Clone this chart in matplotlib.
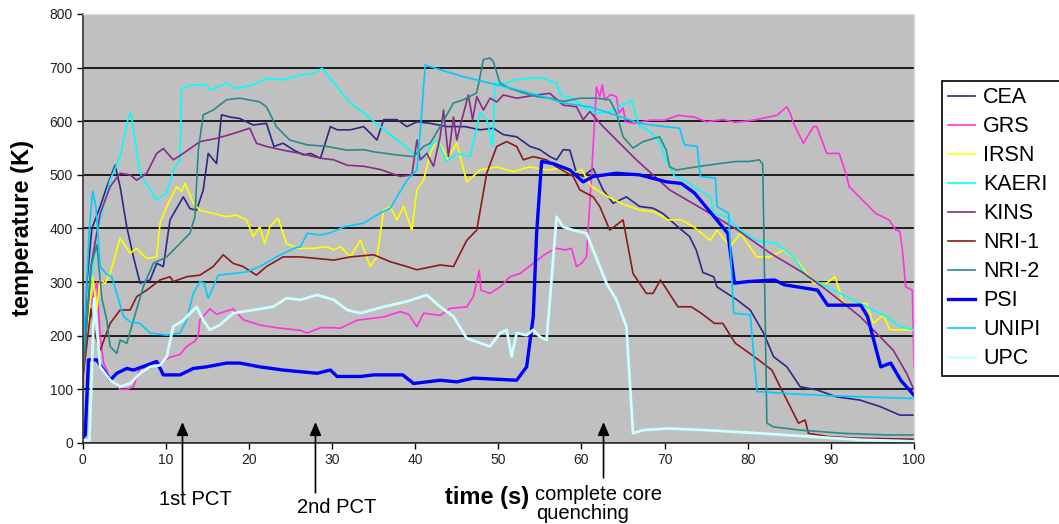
#!/usr/bin/env python3
import matplotlib
matplotlib.use("Agg")
import matplotlib.pyplot as plt

OUT_PNG = "out.png"

# time (s) / temperature (K) traces
cea_t = [0, 0.5, 1.1, 2.1, 2.9, 3.9, 4.5, 5.3, 6.1, 6.9, 8.1, 8.9, 9.7, 10.5, 12.1, 12.9, 13.7, 14.5,
         15.1, 16.1, 16.7, 17.7, 18.9, 20.5, 22.1, 23.0, 24.1, 25.4, 26.6, 27.4, 28.6, 29.8, 30.6, 32.2,
         33.8, 35.4, 36.2, 37.8, 39.0, 40.2, 41.8, 43.8, 46.0, 47.8, 49.4, 50.6, 52.2, 53.8, 55.0, 56.2,
         57.0, 57.8, 58.6, 59.4, 60.2, 61.4, 62.6, 63.8, 65.4, 67.0, 68.6, 69.8, 71.6, 73.0, 73.8, 74.6,
         75.9, 76.3, 77.5, 78.7, 80.3, 81.9, 83.1, 84.7, 86.3, 88.3, 90.7, 93.5, 95.9, 98.3, 100]
cea_v = [100, 300, 400, 441, 478, 518, 478, 403, 347, 298, 304, 335, 329, 416, 459, 437, 434, 472,
         540, 521, 612, 608, 605, 593, 596, 553, 559, 546, 537, 540, 531, 590, 584, 584,
         590, 565, 603, 603, 590, 599, 596, 590, 590, 584, 587, 575, 571, 553, 547, 534,
         528, 547, 546, 503, 497, 512, 472, 447, 459, 441, 438, 428, 403, 385, 360, 318,
         310, 291, 279, 267, 248, 205, 161, 142, 105, 99, 86, 80, 68, 52, 52]

grs_t = [0, 1.0, 1.7, 2.1, 2.5, 3.3, 4.5, 5.3, 6.1, 6.9, 8.1, 9.3, 10.5, 11.7, 12.5, 13.5, 13.9, 14.1,
         15.3, 16.1, 18.1, 19.3, 21.3, 23.3, 26.2, 27.0, 28.6, 30.2, 31.0, 33.0, 36.2, 38.2, 39.2, 40.2,
         41.0, 43.0, 44.2, 46.2, 47.0, 47.7, 47.9, 49.0, 50.2, 51.4, 52.6, 54.2, 55.8, 57.0, 58.0, 58.8,
         59.4, 60.0, 60.6, 61.2, 61.8, 62.2, 62.5, 62.8, 63.5, 64.2, 64.5, 65.0, 65.3, 66.2, 68.3, 70.0,
         71.6, 72.7, 73.5, 75.0, 77.0, 78.5, 80.7, 83.5, 84.7, 85.1, 85.5, 86.7, 87.9, 88.3, 89.5, 91.0,
         91.8, 92.2, 93.8, 95.4, 97.0, 97.8, 98.3, 98.6, 99.0, 99.8, 100]
grs_v = [120, 260, 300, 200, 150, 120, 100, 100, 105, 140, 140, 150, 160, 165, 180, 190, 200, 230,
         250, 240, 250, 230, 220, 215, 210, 205, 215, 215, 214, 229, 235, 245, 240, 217,
         242, 238, 251, 254, 273, 322, 285, 279, 291, 310, 316, 335, 354, 363, 360, 363,
         329, 335, 347, 497, 664, 646, 668, 640, 650, 646, 615, 625, 599, 596, 602, 602,
         611, 609, 608, 599, 603, 598, 602, 611, 627, 615, 596, 559, 590, 590, 540, 540,
         503, 478, 453, 428, 416, 397, 395, 360, 291, 285, 140]

irsn_t = [0, 1.2, 1.7, 2.1, 2.7, 3.3, 4.5, 5.7, 6.5, 7.7, 8.9, 9.3, 10.1, 11.3, 11.9, 12.3, 13.3, 14.1,
          15.7, 17.3, 18.5, 19.7, 20.5, 21.3, 21.9, 22.5, 23.5, 24.5, 25.8, 27.8, 29.4, 30.2, 31.0, 32.2,
          33.4, 34.6, 35.4, 36.2, 37.0, 37.8, 38.6, 39.6, 40.2, 41.0, 41.8, 42.6, 43.4, 43.8, 45.0, 46.2,
          47.8, 49.8, 51.8, 53.8, 55.8, 57.4, 59.0, 60.0, 61.2, 63.2, 65.2, 67.2, 68.8, 70.4, 72.0, 73.5,
          75.5, 76.3, 77.9, 79.1, 81.1, 82.7, 84.3, 85.9, 87.9, 89.5, 90.5, 91.5, 94.3, 95.1, 96.3, 97.1,
          100]
irsn_v = [120, 310, 250, 304, 298, 316, 382, 354, 363, 344, 347, 410, 441, 478, 469, 484, 447, 434,
          428, 422, 425, 416, 385, 403, 372, 403, 419, 372, 363, 363, 366, 360, 366, 347,
          378, 329, 347, 434, 441, 416, 441, 397, 472, 490, 540, 565, 546, 528, 559, 487,
          509, 515, 506, 515, 509, 512, 503, 510, 478, 459, 444, 434, 431, 416, 416, 403,
          378, 397, 366, 391, 347, 347, 360, 341, 298, 298, 310, 260, 260, 223, 239, 211,
          211]

kaeri_t = [0, 0.7, 1.7, 3.3, 4.5, 5.5, 5.8, 6.3, 6.9, 8.1, 8.9, 10.1, 10.9, 11.7, 11.9, 13.3, 14.9, 15.3,
           17.3, 18.5, 20.5, 22.1, 24.1, 26.2, 27.8, 28.8, 30.2, 32.2, 33.8, 35.8, 37.8, 39.8, 41.0, 41.8,
           42.6, 43.8, 45.0, 46.6, 47.8, 48.6, 49.3, 49.6, 51.0, 51.8, 53.8, 55.4, 57.0, 57.4, 57.8, 58.6,
           60.2, 61.8, 63.4, 64.6, 66.0, 67.0, 68.3, 69.5, 70.0, 71.2, 72.5, 73.5, 75.5, 75.9, 77.5, 79.1,
           81.1, 83.5, 85.5, 87.1, 88.7, 91.1, 93.5, 96.7, 98.3, 100]
kaeri_v = [120, 267, 391, 490, 534, 608, 615, 565, 503, 472, 453, 466, 509, 528, 661, 668, 668, 658,
           671, 661, 668, 680, 677, 686, 689, 699, 671, 634, 615, 590, 565, 540, 531, 553,
           565, 525, 540, 534, 615, 603, 553, 671, 671, 677, 680, 680, 671, 652, 646, 646,
           627, 615, 618, 627, 640, 590, 581, 560, 534, 497, 490, 478, 459, 428, 422, 397,
           378, 372, 347, 310, 298, 279, 260, 236, 217, 211]

kins_t = [0, 1.0, 2.1, 3.3, 4.5, 5.7, 6.5, 7.7, 8.9, 9.7, 10.9, 12.1, 14.1, 16.1, 18.1, 20.1, 20.9, 22.1,
          24.1, 26.2, 28.6, 30.2, 31.8, 33.8, 35.8, 38.2, 39.6, 40.2, 40.6, 41.4, 42.2, 43.0, 43.4, 44.0,
          44.6, 45.0, 45.6, 46.4, 46.9, 47.4, 48.2, 49.0, 49.8, 50.6, 52.2, 54.6, 56.2, 57.8, 59.4, 60.2,
          61.0, 62.6, 66.6, 70.6, 74.7, 78.7, 82.7, 86.7, 89.5, 93.5, 97.5, 99.1, 100]
kins_v = [120, 330, 428, 478, 503, 500, 490, 503, 540, 549, 528, 540, 562, 568, 577, 587, 559, 553,
          546, 540, 531, 528, 518, 516, 510, 497, 500, 565, 528, 540, 516, 571, 621, 534,
          608, 565, 603, 649, 603, 646, 621, 643, 636, 649, 643, 649, 652, 630, 627, 603,
          618, 590, 528, 472, 435, 398, 354, 317, 285, 236, 173, 130, 99]

nri1_t = [0, 1.0, 1.5, 2.1, 3.3, 4.5, 5.7, 6.5, 7.7, 9.3, 10.5, 10.9, 12.5, 14.1, 15.7, 16.9, 18.1, 19.3,
          20.9, 22.1, 24.1, 26.2, 28.2, 30.2, 32.2, 35.0, 37.0, 39.0, 40.2, 43.0, 44.6, 46.2, 47.4, 48.6,
          49.8, 51.0, 52.2, 53.0, 54.2, 55.8, 57.0, 59.0, 59.8, 61.4, 62.2, 63.4, 65.0, 66.2, 67.8, 68.6,
          69.5, 70.1, 71.6, 73.2, 74.4, 76.0, 77.0, 78.5, 79.7, 81.3, 82.9, 83.7, 84.9, 86.1, 86.9, 87.3,
          89.7, 93.0, 100]
nri1_v = [120, 250, 200, 173, 223, 248, 248, 273, 285, 304, 310, 301, 310, 313, 329, 351, 335, 329,
          313, 329, 347, 347, 344, 341, 347, 351, 338, 329, 323, 332, 329, 378, 397, 503,
          553, 562, 553, 528, 534, 528, 515, 497, 472, 459, 441, 397, 416, 316, 279, 279,
          304, 290, 254, 254, 242, 223, 223, 186, 173, 155, 136, 111, 74, 37, 43, 18,
          12, 9, 7]

nri2_t = [0, 1.0, 1.7, 2.3, 2.9, 3.3, 4.1, 4.5, 5.3, 6.1, 7.3, 8.5, 10.1, 11.7, 12.9, 13.5, 13.9, 14.5,
          15.7, 17.3, 18.9, 21.3, 22.1, 23.3, 24.9, 27.0, 29.4, 31.8, 33.8, 35.0, 37.8, 39.8, 41.0, 41.8,
          43.0, 44.6, 45.8, 47.4, 48.2, 49.0, 49.4, 50.2, 51.4, 53.0, 54.6, 56.2, 57.8, 59.8, 61.8, 63.4,
          64.2, 65.0, 66.2, 67.4, 69.4, 70.2, 70.6, 71.4, 73.8, 76.6, 78.6, 80.2, 81.4, 81.8, 82.3, 83.1,
          86.3, 91.5, 96.7, 100]
nri2_v = [120, 330, 370, 270, 229, 180, 167, 192, 186, 229, 292, 335, 347, 372, 391, 422, 546, 612,
          621, 640, 643, 636, 627, 590, 565, 556, 553, 546, 547, 543, 537, 534, 553, 559,
          590, 634, 640, 653, 715, 718, 711, 671, 661, 653, 646, 643, 637, 643, 643, 640,
          615, 571, 550, 562, 571, 546, 515, 509, 515, 521, 525, 525, 528, 520, 37, 30,
          24, 18, 15, 15]

psi_t = [0, 0.3, 0.7, 1.7, 2.5, 3.3, 4.1, 5.3, 6.1, 7.7, 8.9, 9.7, 11.7, 13.3, 14.9, 17.3, 18.9, 21.3,
         24.1, 28.2, 29.8, 30.6, 33.4, 35.0, 38.5, 39.8, 43.0, 45.0, 47.0, 52.2, 53.4, 54.2, 54.6, 55.2,
         56.6, 58.6, 60.2, 61.4, 64.2, 67.0, 70.2, 72.0, 73.6, 77.6, 78.4, 80.0, 83.2, 84.4, 88.4, 89.6,
         93.6, 94.4, 96.0, 97.2, 98.4, 100]
psi_v = [10, 15, 155, 155, 136, 117, 130, 139, 136, 145, 152, 127, 127, 139, 142, 149, 149, 142,
         136, 130, 136, 124, 124, 127, 127, 111, 117, 114, 121, 117, 142, 236, 391, 525,
         521, 509, 487, 497, 503, 500, 487, 484, 466, 391, 298, 301, 304, 295, 285, 257,
         257, 236, 142, 149, 117, 89]

unipi_t = [0, 0.8, 1.2, 1.6, 2.1, 2.8, 3.5, 4.1, 4.9, 5.7, 6.9, 8.1, 10.1, 11.7, 12.5, 13.3, 14.1, 14.6,
           15.1, 15.7, 16.3, 18.1, 19.7, 21.3, 23.3, 25.4, 26.2, 27.0, 28.6, 29.8, 31.4, 33.8, 35.8, 37.0,
           39.0, 40.2, 40.7, 41.2, 43.0, 45.8, 48.2, 50.6, 52.2, 55.4, 57.8, 61.0, 64.0, 67.0, 70.0, 71.8,
           72.4, 73.9, 74.3, 76.1, 76.3, 77.7, 78.3, 80.3, 81.1, 85.0, 90.0, 100]
unipi_v = [150, 400, 470, 440, 329, 316, 310, 279, 236, 226, 223, 205, 201, 205, 229, 279, 301, 298,
           270, 291, 313, 316, 319, 329, 347, 363, 366, 391, 388, 392, 403, 410, 429, 438,
           490, 509, 600, 705, 696, 683, 674, 665, 659, 646, 634, 627, 612, 596, 590, 587,
           556, 553, 497, 494, 441, 428, 242, 239, 96, 92, 88, 83]

upc_t = [0, 0.8, 1.4, 2.1, 3.3, 4.5, 5.7, 6.9, 8.1, 9.3, 10.1, 10.9, 12.1, 13.7, 14.5, 15.3, 16.5, 18.1,
         20.5, 22.9, 24.5, 26.2, 28.2, 30.2, 31.8, 33.4, 36.2, 39.0, 41.4, 43.0, 44.6, 46.2, 49.0, 50.2,
         51.0, 51.6, 52.2, 53.4, 54.2, 55.0, 55.8, 56.2, 57.0, 57.8, 59.0, 60.6, 61.4, 63.0, 64.2, 65.4,
         66.2, 67.4, 70.4, 75.0, 81.5, 87.5, 93.5, 100]
upc_v = [5, 5, 270, 142, 117, 105, 111, 130, 142, 145, 161, 217, 229, 254, 229, 211, 220, 242,
         248, 254, 270, 267, 276, 267, 248, 242, 254, 264, 276, 254, 236, 195, 180, 205,
         211, 161, 205, 201, 211, 198, 192, 267, 422, 403, 397, 391, 360, 298, 267, 217,
         18, 24, 27, 24, 18, 12, 6, 3]

series = [
    ("CEA", cea_t, cea_v, "#2a2a8a", 1.2),
    ("GRS", grs_t, grs_v, "#ff33dd", 1.2),
    ("IRSN", irsn_t, irsn_v, "#ffff00", 1.2),
    ("KAERI", kaeri_t, kaeri_v, "#00ffff", 1.2),
    ("KINS", kins_t, kins_v, "#8a2a8a", 1.2),
    ("NRI-1", nri1_t, nri1_v, "#8b1a1a", 1.2),
    ("NRI-2", nri2_t, nri2_v, "#2a8a8a", 1.2),
    ("PSI", psi_t, psi_v, "#0000ff", 2.4),
    ("UNIPI", unipi_t, unipi_v, "#00ccff", 1.2),
    ("UPC", upc_t, upc_v, "#ccffff", 2.0),
]


def main():
    plt.rcParams["font.family"] = ["Liberation Sans", "DejaVu Sans"]

    fig = plt.figure(figsize=(10.59, 5.24), dpi=100)
    ax = fig.add_axes([0.0781, 0.1546, 0.7850, 0.8187])
    ax.set_facecolor("#c0c0c0")

    for name, t, v, color, lw in series:
        ax.plot(t, v, color=color, lw=lw, label=name)

    ax.set_xlim(0, 100)
    ax.set_ylim(0, 800)
    ax.set_xticks(range(0, 101, 10))
    ax.set_yticks(range(0, 801, 100))
    ax.yaxis.grid(True, color="black", lw=1.2)
    ax.set_axisbelow(True)
    ax.tick_params(direction="out", length=4, width=1, labelsize=10,
                   labelcolor="#222222", pad=3)

    for side in ("left", "bottom"):
        ax.spines[side].set_color("#333333")
        ax.spines[side].set_linewidth(1.2)
    for side in ("top", "right"):
        ax.spines[side].set_color("#dcdcdc")
        ax.spines[side].set_linewidth(1.0)

    ax.set_ylabel("temperature (K)", fontsize=17, fontweight="bold")
    ax.yaxis.label.set_verticalalignment("center")
    ax.yaxis.set_label_coords(-0.072, 0.5)
    ax.set_xlabel("time (s)", fontsize=17, fontweight="bold")
    ax.xaxis.set_label_coords(0.487, -0.100)

    # event arrows below the axis
    arrow = dict(arrowstyle="-|>,head_length=0.8,head_width=0.35", color="black",
                 lw=1.2, mutation_scale=10, shrinkA=0, shrinkB=0)
    for x, y0 in [(12.0, -93), (28.0, -93), (62.65, -65)]:
        ax.annotate("", xy=(x, 39), xytext=(x, y0), arrowprops=arrow,
                    annotation_clip=False)

    ax.text(13.6, -115.7, "1st PCT", fontsize=14.5, ha="center", va="baseline", clip_on=False)
    ax.text(30.5, -130.6, "2nd PCT", fontsize=14.5, ha="center", va="baseline", clip_on=False)
    ax.text(54.4, -106.3, "complete core", fontsize=14.5, ha="left", va="baseline", clip_on=False)
    ax.text(54.6, -141.5, "quenching", fontsize=14.5, ha="left", va="baseline", clip_on=False)

    handles, labels = ax.get_legend_handles_labels()
    leg = fig.legend(handles, labels, loc="upper left",
                     bbox_to_anchor=(942 / 1059, 0, 118 / 1059, 1 - 81 / 524),
                     mode="expand", fontsize=15.5, handlelength=1.25, handletextpad=0.35,
                     borderpad=0.3, labelspacing=0.37, borderaxespad=0,
                     fancybox=False, framealpha=1)
    leg.get_frame().set_edgecolor("black")
    leg.get_frame().set_linewidth(1.2)

    fig.savefig(OUT_PNG, dpi=100)
    return 0


if __name__ == "__main__":
    main()
